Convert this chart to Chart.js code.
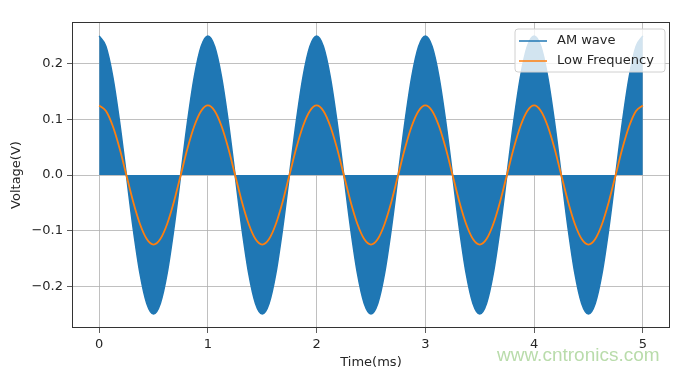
<!DOCTYPE html>
<html>
<head>
<meta charset="utf-8">
<script src="https://cdn.jsdelivr.net/npm/chart.js@4"></script>
<style>
body { margin: 0; background: #fff; }
#wrap { position: relative; width: 680px; height: 374px; }
#mark { position: absolute; left: 497px; top: 344px; font: 19px "Liberation Sans", Arial, sans-serif; color: #b9dcab; }
</style>
</head>
<body>
<div id="wrap">
<canvas id="chart" width="680" height="374"></canvas>
<div id="mark">www.cntronics.com</div>
</div>
<script>
// time in ms, one sample every 1/16 ms
var times = [
    0, 0.0625, 0.125, 0.1875, 0.25, 0.3125, 0.375, 0.4375, 0.5, 0.5625, 0.625, 0.6875, 0.75, 0.8125, 0.875, 0.9375,
    1, 1.0625, 1.125, 1.1875, 1.25, 1.3125, 1.375, 1.4375, 1.5, 1.5625, 1.625, 1.6875, 1.75, 1.8125, 1.875, 1.9375,
    2, 2.0625, 2.125, 2.1875, 2.25, 2.3125, 2.375, 2.4375, 2.5, 2.5625, 2.625, 2.6875, 2.75, 2.8125, 2.875, 2.9375,
    3, 3.0625, 3.125, 3.1875, 3.25, 3.3125, 3.375, 3.4375, 3.5, 3.5625, 3.625, 3.6875, 3.75, 3.8125, 3.875, 3.9375,
    4, 4.0625, 4.125, 4.1875, 4.25, 4.3125, 4.375, 4.4375, 4.5, 4.5625, 4.625, 4.6875, 4.75, 4.8125, 4.875, 4.9375,
    5
];
// outer edge of the AM wave (filled down to 0)
var amWave = [
    0.25, 0.231, 0.177, 0.096, 0, -0.096, -0.177, -0.231, -0.25, -0.231, -0.177, -0.096, 0, 0.096, 0.177, 0.231,
    0.25, 0.231, 0.177, 0.096, 0, -0.096, -0.177, -0.231, -0.25, -0.231, -0.177, -0.096, 0, 0.096, 0.177, 0.231,
    0.25, 0.231, 0.177, 0.096, 0, -0.096, -0.177, -0.231, -0.25, -0.231, -0.177, -0.096, 0, 0.096, 0.177, 0.231,
    0.25, 0.231, 0.177, 0.096, 0, -0.096, -0.177, -0.231, -0.25, -0.231, -0.177, -0.096, 0, 0.096, 0.177, 0.231,
    0.25, 0.231, 0.177, 0.096, 0, -0.096, -0.177, -0.231, -0.25, -0.231, -0.177, -0.096, 0, 0.096, 0.177, 0.231,
    0.25
];
var lowFreq = [
    0.125, 0.115, 0.088, 0.048, 0, -0.048, -0.088, -0.115, -0.125, -0.115, -0.088, -0.048, 0, 0.048, 0.088, 0.115,
    0.125, 0.115, 0.088, 0.048, 0, -0.048, -0.088, -0.115, -0.125, -0.115, -0.088, -0.048, 0, 0.048, 0.088, 0.115,
    0.125, 0.115, 0.088, 0.048, 0, -0.048, -0.088, -0.115, -0.125, -0.115, -0.088, -0.048, 0, 0.048, 0.088, 0.115,
    0.125, 0.115, 0.088, 0.048, 0, -0.048, -0.088, -0.115, -0.125, -0.115, -0.088, -0.048, 0, 0.048, 0.088, 0.115,
    0.125, 0.115, 0.088, 0.048, 0, -0.048, -0.088, -0.115, -0.125, -0.115, -0.088, -0.048, 0, 0.048, 0.088, 0.115,
    0.125
];
var xTicks = [0, 1, 2, 3, 4, 5];
var yTicks = [-0.2, -0.1, 0, 0.1, 0.2];

function pts(ys) {
    return times.map(function (t, i) { return { x: t, y: ys[i] }; });
}

var frameAndLegend = {
    id: 'frameAndLegend',
    afterDraw: function (chart) {
        var c = chart.ctx, a = chart.chartArea;
        c.save();
        c.strokeStyle = '#333';
        c.lineWidth = 1;
        c.strokeRect(a.left + 0.5, a.top + 0.5, a.right - a.left - 1, a.bottom - a.top - 1);

        // legend box, upper right inside the plot
        var bx = 515, by = 29, bw = 150, bh = 43, r = 3;
        c.beginPath();
        c.moveTo(bx + r, by);
        c.arcTo(bx + bw, by, bx + bw, by + bh, r);
        c.arcTo(bx + bw, by + bh, bx, by + bh, r);
        c.arcTo(bx, by + bh, bx, by, r);
        c.arcTo(bx, by, bx + bw, by, r);
        c.closePath();
        c.fillStyle = 'rgba(255,255,255,0.8)';
        c.fill();
        c.strokeStyle = '#d0d0d0';
        c.stroke();

        var rows = [chart.data.datasets[0], chart.data.datasets[1]];
        c.font = '13px "DejaVu Sans"';
        c.textBaseline = 'middle';
        rows.forEach(function (ds, i) {
            var y = 41 + i * 20;
            c.strokeStyle = ds.borderColor;
            c.lineWidth = 1.5;
            c.beginPath();
            c.moveTo(519, y);
            c.lineTo(547, y);
            c.stroke();
            c.fillStyle = '#262626';
            c.fillText(ds.label, 557, y);
        });
        c.restore();
    }
};

var ctx = document.getElementById('chart');
new Chart(ctx, {
    type: 'line',
    data: {
        datasets: [{
            label: 'AM wave',
            data: pts(amWave),
            borderColor: '#1f77b4',
            backgroundColor: '#1f77b4',
            borderWidth: 1.5,
            fill: 'origin',
            pointRadius: 0,
            cubicInterpolationMode: 'monotone',
            order: 1
        }, {
            label: 'Low Frequency',
            data: pts(lowFreq),
            borderColor: '#ff7f0e',
            borderWidth: 1.8,
            fill: false,
            pointRadius: 0,
            cubicInterpolationMode: 'monotone',
            order: 0
        }]
    },
    options: {
        responsive: false,
        animation: false,
        layout: { padding: { left: 0, right: 10, top: 22, bottom: 0 } },
        plugins: {
            legend: { display: false },
            tooltip: { enabled: false }
        },
        scales: {
            x: {
                type: 'linear',
                min: -0.25,
                max: 5.25,
                afterBuildTicks: function (s) { s.ticks = xTicks.map(function (v) { return { value: v }; }); },
                afterFit: function (s) { s.height = 46; },
                grid: { color: '#b0b0b0', lineWidth: 0.8, tickColor: '#333', tickLength: 5 },
                border: { display: false },
                ticks: {
                    color: '#262626',
                    font: { family: 'DejaVu Sans', size: 13 },
                    padding: 4,
                    maxRotation: 0,
                    callback: function (v) { return String(v); }
                },
                title: {
                    display: true,
                    text: 'Time(ms)',
                    color: '#262626',
                    font: { family: 'DejaVu Sans', size: 13 },
                    padding: { top: 0, bottom: 4 }
                }
            },
            y: {
                type: 'linear',
                min: -0.275,
                max: 0.275,
                afterBuildTicks: function (s) { s.ticks = yTicks.map(function (v) { return { value: v }; }); },
                afterFit: function (s) { s.width = 72; },
                grid: { color: '#b0b0b0', lineWidth: 0.8, tickColor: '#333', tickLength: 5 },
                border: { display: false },
                ticks: {
                    color: '#262626',
                    font: { family: 'DejaVu Sans', size: 13 },
                    padding: 4,
                    callback: function (v) { return v.toFixed(1).replace('-', '\u2212'); }
                },
                title: {
                    display: true,
                    text: 'Voltage(V)',
                    color: '#262626',
                    font: { family: 'DejaVu Sans', size: 13 },
                    padding: { top: 9, bottom: 0 }
                }
            }
        }
    },
    plugins: [frameAndLegend]
});
</script>
</body>
</html>
